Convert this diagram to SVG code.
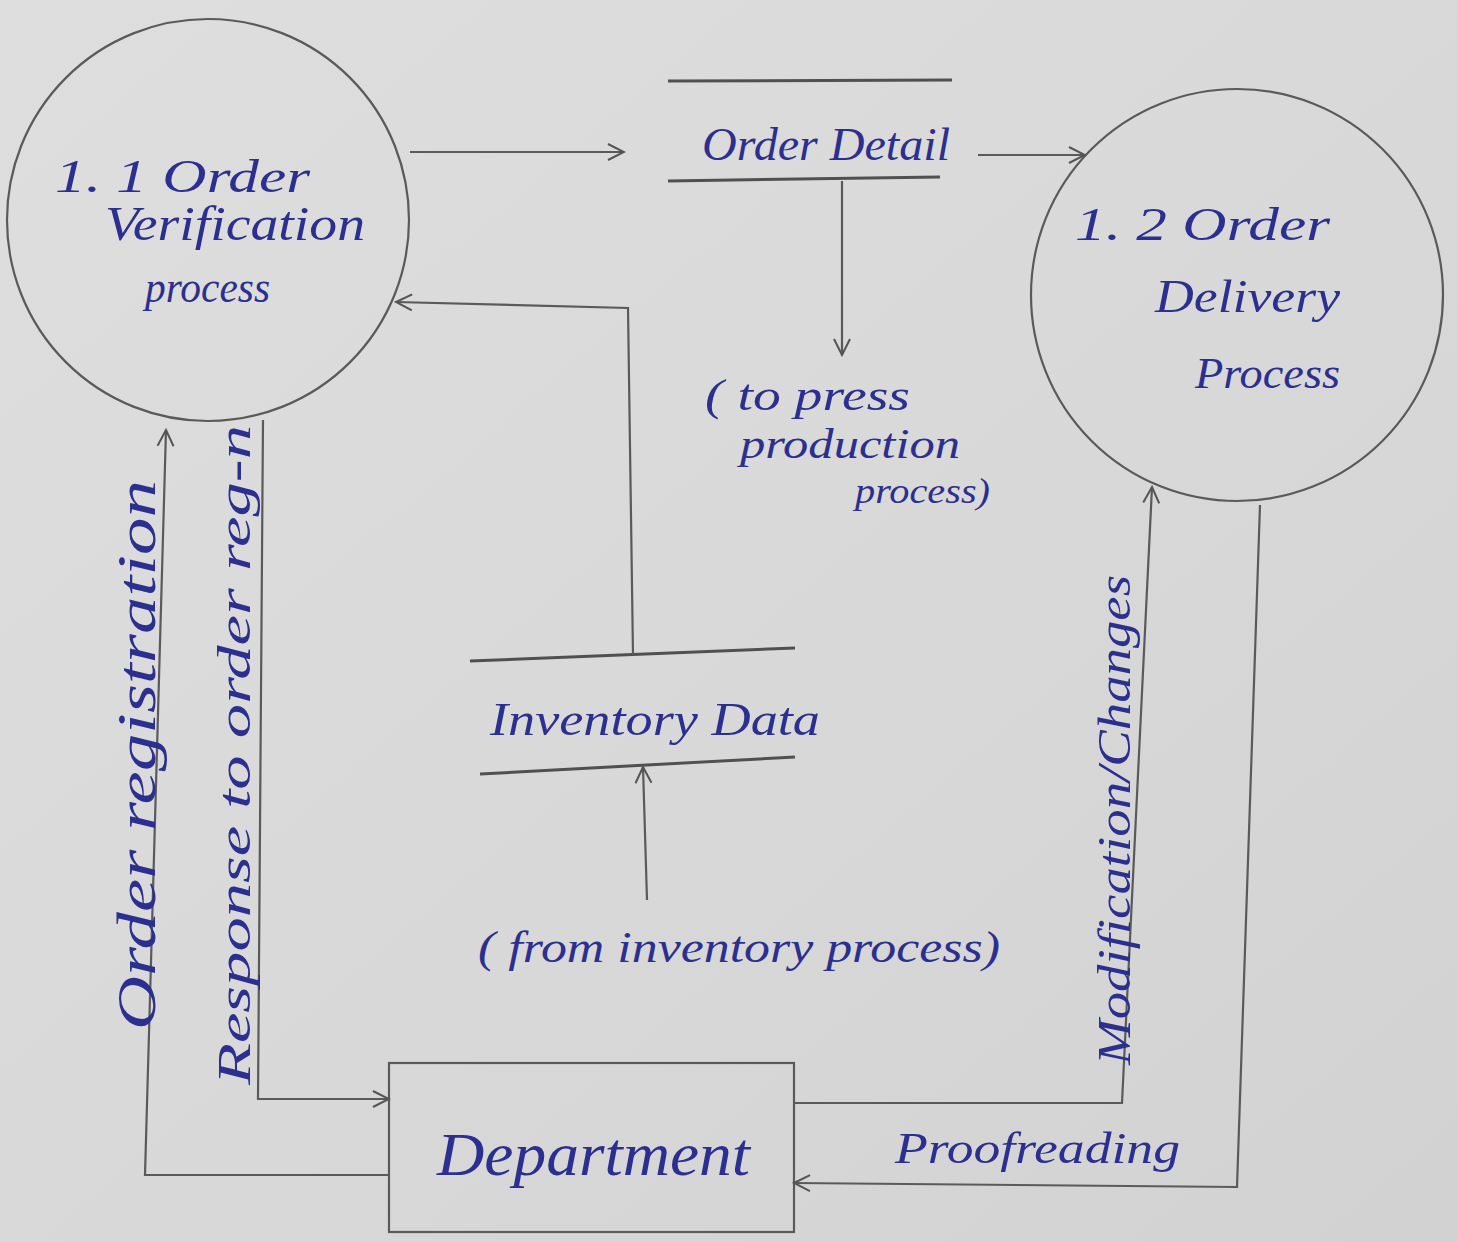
<svg xmlns="http://www.w3.org/2000/svg" width="1457" height="1242" viewBox="0 0 1457 1242">
<defs>
<linearGradient id="paper" x1="0" y1="0" x2="1" y2="1">
<stop offset="0" stop-color="#dedede"/>
<stop offset="0.5" stop-color="#d9d9d9"/>
<stop offset="1" stop-color="#d2d2d2"/>
</linearGradient>
<marker id="ah" viewBox="0 0 20 20" refX="18" refY="10" markerWidth="20" markerHeight="20" markerUnits="userSpaceOnUse" orient="auto">
<path d="M2 2 L18 10 L2 18" fill="none" stroke="#555" stroke-width="2"/>
</marker>
<style>
.pen{fill:none;stroke:#5a5a5a;stroke-width:2.2}
.store{fill:none;stroke:#505050;stroke-width:3}
.ink{font-family:"Liberation Serif","DejaVu Serif",serif;font-style:italic;fill:#2b2f8f}
</style>
</defs>
<rect x="0" y="0" width="1457" height="1242" fill="url(#paper)"/>
<g id="p1">
<circle cx="208" cy="220" r="201" class="pen"/>
<text class="ink" x="55" y="192" font-size="46" textLength="255" lengthAdjust="spacingAndGlyphs">1. 1 Order</text>
<text class="ink" x="105" y="240" font-size="48" textLength="260" lengthAdjust="spacingAndGlyphs">Verification</text>
<text class="ink" x="145" y="302" font-size="44" textLength="125" lengthAdjust="spacingAndGlyphs">process</text>
</g>
<g id="p2">
<circle cx="1237" cy="295" r="206" class="pen"/>
<text class="ink" x="1075" y="240" font-size="46" textLength="255" lengthAdjust="spacingAndGlyphs">1. 2 Order</text>
<text class="ink" x="1155" y="312" font-size="46" textLength="185" lengthAdjust="spacingAndGlyphs">Delivery</text>
<text class="ink" x="1195" y="388" font-size="44" textLength="145" lengthAdjust="spacingAndGlyphs">Process</text>
</g>
<g id="orderDetail">
<line x1="668" y1="81" x2="952" y2="80" class="store"/>
<line x1="668" y1="181" x2="940" y2="177" class="store"/>
<text class="ink" x="702" y="160" font-size="46" textLength="248" lengthAdjust="spacingAndGlyphs">Order Detail</text>
</g>
<g id="inventoryData">
<line x1="470" y1="661" x2="795" y2="648" class="store"/>
<line x1="480" y1="774" x2="795" y2="757" class="store"/>
<text class="ink" x="490" y="735" font-size="46" textLength="330" lengthAdjust="spacingAndGlyphs">Inventory Data</text>
</g>
<g id="department">
<rect x="389" y="1063" width="405" height="169" class="pen"/>
<text class="ink" x="437" y="1175" font-size="62" textLength="313" lengthAdjust="spacingAndGlyphs">Department</text>
</g>
<g id="connectors">
<line x1="410" y1="152" x2="624" y2="152" class="pen" marker-end="url(#ah)"/>
<line x1="978" y1="155" x2="1085" y2="155" class="pen" marker-end="url(#ah)"/>
<line x1="842" y1="181" x2="842" y2="355" class="pen" marker-end="url(#ah)"/>
<polyline points="633,655 628,308 396,302" class="pen" marker-end="url(#ah)"/>
<line x1="647" y1="900" x2="643" y2="767" class="pen" marker-end="url(#ah)"/>
<polyline points="389,1175 145,1175 166,430" class="pen" marker-end="url(#ah)"/>
<polyline points="263,420 258,1099 389,1099" class="pen" marker-end="url(#ah)"/>
<polyline points="794,1103 1122,1103 1152,487" class="pen" marker-end="url(#ah)"/>
<polyline points="1260,505 1237,1187 794,1183" class="pen" marker-end="url(#ah)"/>
</g>
<g id="labels">
<text class="ink" x="705" y="410" font-size="44" textLength="205" lengthAdjust="spacingAndGlyphs">( to  press</text>
<text class="ink" x="740" y="458" font-size="42" textLength="220" lengthAdjust="spacingAndGlyphs">production</text>
<text class="ink" x="855" y="503" font-size="36" textLength="135" lengthAdjust="spacingAndGlyphs">process)</text>
<text class="ink" x="478" y="962" font-size="44" textLength="522" lengthAdjust="spacingAndGlyphs">( from inventory process)</text>
<text class="ink" x="895" y="1163" font-size="44" textLength="285" lengthAdjust="spacingAndGlyphs">Proofreading</text>
<text class="ink" transform="translate(155,1030) rotate(-90)" font-size="54" textLength="550" lengthAdjust="spacingAndGlyphs">Order registration</text>
<text class="ink" transform="translate(250,1085) rotate(-90)" font-size="46" textLength="660" lengthAdjust="spacingAndGlyphs">Response to order reg-n</text>
<text class="ink" transform="translate(1130,1065) rotate(-90)" font-size="46" textLength="490" lengthAdjust="spacingAndGlyphs">Modification/Changes</text>
</g>
</svg>
